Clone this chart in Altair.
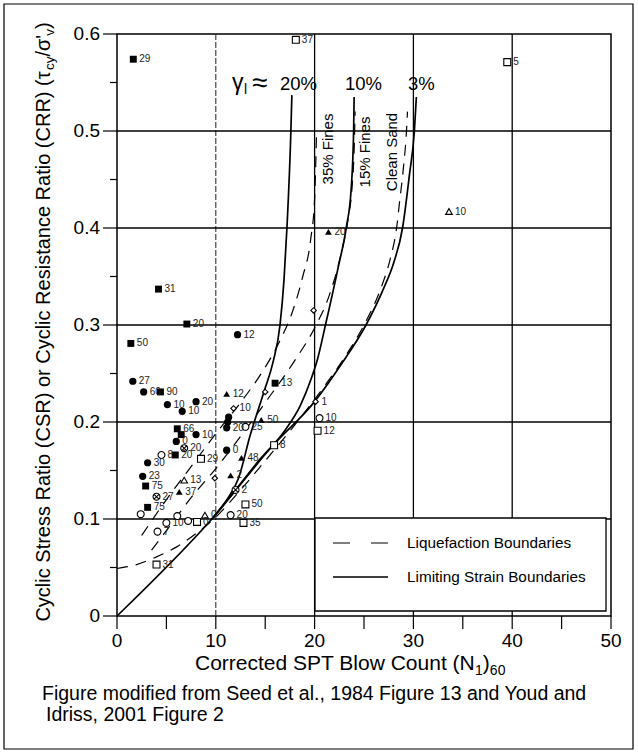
import altair as alt
import pandas as pd

FONT = "Liberation Sans"

# ---------------- data ----------------
# Limiting strain boundaries (solid curves)
strain3_x = [0, 9.6, 15.8, 20, 22.8, 25.2, 27, 28, 28.9, 29.6, 30.1, 30.3]
strain3_y = [0, 0.1, 0.176, 0.221, 0.261, 0.3, 0.338, 0.364, 0.4, 0.455, 0.5, 0.535]
strain10_x = [9.6, 12, 14.5, 16.9, 18.6, 19.6, 20.3, 21.1, 22.4, 23.2, 23.7, 23.95, 24.0]
strain10_y = [0.1, 0.13, 0.162, 0.19, 0.218, 0.243, 0.265, 0.3, 0.36, 0.4, 0.44, 0.5, 0.535]
strain20_x = [9.6, 11, 12.3, 13.5, 14.9, 15.8, 16.5, 16.9, 17.2, 17.6, 17.7]
strain20_y = [0.1, 0.118, 0.142, 0.187, 0.232, 0.262, 0.3, 0.346, 0.4, 0.5, 0.537]

# Liquefaction boundaries (dashed curves)
liq35_x = [2.5, 5, 7.5, 10, 12.5, 14.6, 16.3, 17.8, 18.8, 19.6, 20.0, 20.2]
liq35_y = [0.083, 0.12, 0.154, 0.188, 0.22, 0.25, 0.28, 0.315, 0.35, 0.388, 0.43, 0.5]
liq15_x = [3.5, 5, 7.5, 10, 12.5, 15, 17.9, 20, 21.5, 22.6, 23.4, 23.8, 24.0, 24.1]
liq15_y = [0.068, 0.088, 0.122, 0.152, 0.185, 0.22, 0.262, 0.297, 0.331, 0.37, 0.41, 0.443, 0.48, 0.52]
liqcs_x = [0, 2, 4, 6, 8, 10, 12, 15, 18, 21, 23, 25, 26.6, 27.7, 28.3, 28.6, 29, 29.3, 29.4]
liqcs_y = [0.049, 0.053, 0.061, 0.071, 0.085, 0.102, 0.124, 0.16, 0.197, 0.237, 0.266, 0.3,
           0.335, 0.37, 0.4, 0.427, 0.463, 0.5, 0.52]

# Case-history points
fsq_x = [1.65, 4.2, 7.07, 1.4, 4.4, 6.1, 6.5, 5.9, 2.9, 3.1, 16.0]
fsq_y = [0.574, 0.337, 0.301, 0.281, 0.231, 0.193, 0.187, 0.166, 0.134, 0.112, 0.240]
fsq_l = ["29", "31", "20", "50", "90", "66", "", "20", "75", "75", "13"]

fci_x = [1.6, 2.7, 5.1, 8.0, 6.6, 8.0, 6.0, 3.1, 2.6, 12.2, 11.3, 11.2, 11.1, 11.1]
fci_y = [0.242, 0.231, 0.218, 0.221, 0.211, 0.187, 0.180, 0.158, 0.144, 0.290, 0.205, 0.200, 0.194, 0.171]
fci_l = ["27", "60", "10", "20", "10", "10", "0", "30", "23", "12", "", "", "20", "0"]

ftr_x = [11.1, 12.6, 11.5, 21.4, 14.6, 6.3]
ftr_y = [0.229, 0.163, 0.145, 0.396, 0.202, 0.128]
ftr_l = ["12", "48", "2", "20", "50", "37"]

osq_x = [18.1, 39.5, 15.9, 20.3, 13.0, 12.8, 4.0, 8.1, 8.5]
osq_y = [0.594, 0.571, 0.176, 0.191, 0.115, 0.096, 0.053, 0.097, 0.162]
osq_l = ["37", "5", "8", "12", "50", "35", "31", "0", "29"]

oci_x = [2.4, 4.1, 5.0, 6.1, 7.2, 11.5, 20.5, 13.0, 4.5]
oci_y = [0.105, 0.087, 0.096, 0.103, 0.098, 0.104, 0.204, 0.195, 0.166]
oci_l = ["", "7", "10", "", "", "20", "10", "25", "8"]

otr_x = [33.6, 8.9, 6.8]
otr_y = [0.417, 0.104, 0.140]
otr_l = ["10", "0", "13"]

odi_x = [19.9, 15.0, 9.9, 20.1, 11.8]
odi_y = [0.315, 0.231, 0.142, 0.221, 0.214]
odi_l = ["", "", "", "1", "10"]

xci_x = [6.8, 4.0, 12.0]
xci_y = [0.173, 0.123, 0.130]
xci_l = ["20", "27", "2"]

# axes / grid
grid_x = [20, 30, 40]
grid_x_faint = [10]
grid_y = [0.1, 0.2, 0.3, 0.4, 0.5]
minor_y = [0.05, 0.15, 0.25, 0.35, 0.45, 0.55]
x_ticks = [0, 5, 10, 15, 20, 25, 30, 35, 40, 45, 50]
x_label_vals = [0, 10, 20, 30, 40, 50]
x_label_txt = ["0", "10", "20", "30", "40", "50"]
y_label_vals = [0, 0.1, 0.2, 0.3, 0.4, 0.5, 0.6]
y_label_txt = ["0", "0.1", "0.2", "0.3", "0.4", "0.5", "0.6"]

# ---------------- helpers ----------------
AW = {' ': 278, '(': 333, ')': 333, '/': 278, "'": 191, ',': 278, '.': 278, '%': 889, '≈': 584,
      'A': 667, 'B': 667, 'C': 722, 'D': 722, 'E': 667, 'F': 611, 'I': 278, 'L': 556, 'N': 722,
      'P': 667, 'R': 722, 'S': 667, 'T': 611, 'Y': 667,
      'a': 556, 'b': 556, 'c': 500, 'd': 556, 'e': 556, 'f': 278, 'g': 556, 'i': 222, 'l': 222,
      'm': 833, 'n': 556, 'o': 556, 'p': 556, 'r': 333, 's': 500, 't': 278, 'u': 556, 'v': 500,
      'w': 722, 'y': 500, 'τ': 460, 'σ': 570, 'γ': 500}
for d in "0123456789":
    AW[d] = 556


def tw(s, size):
    return sum(AW.get(ch, 556) for ch in s) * size / 1000.0


xs = alt.Scale(domain=[0, 50], nice=False, zero=False)
ys = alt.Scale(domain=[0, 0.6], nice=False, zero=False)
one = pd.DataFrame({"k": [0]})


def curve_df(name, cx, cy):
    return pd.DataFrame({"x": cx, "y": cy, "c": name, "i": list(range(len(cx)))})


def pts(px, py, pl):
    return pd.DataFrame({"x": px, "y": py, "lbl": pl})


def XE():
    return alt.X("x:Q", scale=xs, axis=None)


def YE():
    return alt.Y("y:Q", scale=ys, axis=None)


def txt(s, x, y, size, angle=0, align="left", baseline="alphabetic", color="black"):
    return alt.Chart(one).mark_text(text=s, fontSize=size, angle=angle, align=align,
                                    baseline=baseline, font=FONT, color=color).encode(
        x=alt.value(x), y=alt.value(y))


layers = []

# outer frame
layers.append(alt.Chart(one).mark_rect(fillOpacity=0, stroke="black", strokeWidth=1.2).encode(
    x=alt.value(-113), x2=alt.value(516), y=alt.value(-30), y2=alt.value(715)))

# gridlines
layers.append(alt.Chart(pd.DataFrame({"x": grid_x})).mark_rule(color="black", strokeWidth=1.3).encode(
    x=XE()))
layers.append(alt.Chart(pd.DataFrame({"x": grid_x_faint})).mark_rule(color="#333", strokeWidth=1.1,
                                                                     strokeDash=[6, 2]).encode(x=XE()))
layers.append(alt.Chart(pd.DataFrame({"y": grid_y})).mark_rule(color="black", strokeWidth=1.3).encode(
    y=YE()))

# ticks and tick labels
layers.append(alt.Chart(pd.DataFrame({"y": minor_y})).mark_rule(color="black", strokeWidth=1.2).encode(
    y=YE(), x=alt.value(-7), x2=alt.value(0)))
layers.append(alt.Chart(pd.DataFrame({"y": y_label_vals})).mark_rule(color="black", strokeWidth=1.2).encode(
    y=YE(), x=alt.value(-14), x2=alt.value(0)))
layers.append(alt.Chart(pd.DataFrame({"x": x_ticks})).mark_rule(color="black", strokeWidth=1.2).encode(
    x=XE(), y=alt.value(582), y2=alt.value(595)))
layers.append(alt.Chart(pd.DataFrame({"x": x_label_vals, "t": x_label_txt})).mark_text(
    fontSize=19, font=FONT, color="black", align="center", baseline="middle").encode(
    x=XE(), y=alt.value(607), text="t:N"))
layers.append(alt.Chart(pd.DataFrame({"y": y_label_vals, "t": y_label_txt})).mark_text(
    fontSize=19, font=FONT, color="black", align="right", baseline="middle").encode(
    y=YE(), x=alt.value(-17), text="t:N"))

# curves
solid_df = pd.concat([curve_df("3%", strain3_x, strain3_y), curve_df("10%", strain10_x, strain10_y),
                      curve_df("20%", strain20_x, strain20_y)])
dash_df = pd.concat([curve_df("35%", liq35_x, liq35_y), curve_df("15%", liq15_x, liq15_y),
                     curve_df("clean", liqcs_x, liqcs_y)])
layers.append(alt.Chart(dash_df).mark_line(color="black", strokeWidth=1.2, strokeDash=[11, 8],
                                           interpolate="monotone").encode(
    x=XE(), y=YE(), detail="c:N", order="i:Q"))
layers.append(alt.Chart(solid_df).mark_line(color="black", strokeWidth=1.7, interpolate="monotone").encode(
    x=XE(), y=YE(), detail="c:N", order="i:Q"))

# points
CROSS = "M-1,0A1,1,0,1,1,1,0A1,1,0,1,1,-1,0Z M-0.7,0.7L0.7,-0.7 M-0.7,-0.7L0.7,0.7"
groups = [
    (pts(fsq_x, fsq_y, fsq_l), dict(shape="square", filled=True, color="black", size=48)),
    (pts(fci_x, fci_y, fci_l), dict(shape="circle", filled=True, color="black", size=52)),
    (pts(ftr_x, ftr_y, ftr_l), dict(shape="triangle-up", filled=True, color="black", size=46)),
    (pts(osq_x, osq_y, osq_l), dict(shape="square", filled=True, fill="white", stroke="black",
                                     strokeWidth=1.1, size=48)),
    (pts(oci_x, oci_y, oci_l), dict(shape="circle", filled=True, fill="white", stroke="black",
                                     strokeWidth=1.1, size=48)),
    (pts(otr_x, otr_y, otr_l), dict(shape="triangle-up", filled=True, fill="white", stroke="black",
                                     strokeWidth=1.1, size=44)),
    (pts(odi_x, odi_y, odi_l), dict(shape="diamond", filled=True, fill="white", stroke="black",
                                     strokeWidth=1.1, size=30)),
    (pts(xci_x, xci_y, xci_l), dict(shape=CROSS, filled=True, fill="white", stroke="black",
                                     strokeWidth=1.1, size=48)),
]
for df, kw in groups:
    layers.append(alt.Chart(df).mark_point(opacity=1, **kw).encode(x=XE(), y=YE()))
all_pts = pd.concat([g[0] for g in groups])
layers.append(alt.Chart(all_pts).mark_text(align="left", baseline="middle", dx=6, fontSize=10,
                                           font=FONT, color="#222").encode(x=XE(), y=YE(), text="lbl:N"))

# legend
layers.append(alt.Chart(one).mark_rect(fill="white", stroke="black", strokeWidth=1.3).encode(
    x=alt.value(198), x2=alt.value(489), y=alt.value(484), y2=alt.value(577)))
layers.append(alt.Chart(one).mark_rule(color="black", strokeWidth=1.2, strokeDash=[17, 21]).encode(
    x=alt.value(216), x2=alt.value(271), y=alt.value(509)))
layers.append(alt.Chart(one).mark_rule(color="black", strokeWidth=1.4).encode(
    x=alt.value(216), x2=alt.value(271), y=alt.value(543)))
layers.append(txt("Liquefaction Boundaries", 290, 509, 15.3, baseline="middle"))
layers.append(txt("Limiting Strain Boundaries", 290, 543, 15.3, baseline="middle"))

# curve annotations
layers.append(txt("γ", 115, 56, 23))
layers.append(txt("l", 127, 60, 14))
layers.append(txt("≈", 135, 58, 28))
layers.append(txt("20%", 163, 56, 18.5))
layers.append(txt("10%", 228, 56, 18.5))
layers.append(txt("3%", 291, 56, 18.5))
layers.append(txt("35% Fines", 211, 115, 15, angle=270, align="center", baseline="middle"))
layers.append(txt("15% Fines", 248, 118, 15, angle=270, align="center", baseline="middle"))
layers.append(txt("Clean Sand", 275, 118, 15, angle=270, align="center", baseline="middle"))

# y title (rotated, with subscripts)
F, S = 20, 13.5
ypieces = [("Cyclic Stress Ratio (CSR) or Cyclic Resistance Ratio (CRR) (τ", F, False),
           ("cy", S, True), ("/σ'", F, False), ("v", S, True), (")", F, False)]
total = sum(tw(p, s) for p, s, _ in ypieces)
cur = 288 + total / 2
for p, s, sub in ypieces:
    layers.append(txt(p, -63 if sub else -67, cur, s, angle=270))
    cur -= tw(p, s)

# x title (with subscripts)
F2, S2 = 21, 14
xpieces = [("Corrected SPT Blow Count (N", F2, False), ("1", S2, True), (")", F2, False), ("60", S2, True)]
cx = 78
for p, s, sub in xpieces:
    layers.append(txt(p, cx, 641 if sub else 636, s))
    cx += tw(p, s)

# caption
layers.append(txt("Figure modified from Seed et al., 1984 Figure 13 and Youd and", -75, 666, 19.5))
layers.append(txt("Idriss, 2001 Figure 2", -71, 687, 19.5))

chart = alt.layer(*layers).properties(
    width=494, height=582,
    padding={"left": 117, "top": 34, "right": 27, "bottom": 138},
    autosize=alt.AutoSizeParams(type="none"),
    background="white",
).configure_view(stroke="black", strokeWidth=1.5)

chart.save("out.html", embed_options={"renderer": "svg", "actions": False})
